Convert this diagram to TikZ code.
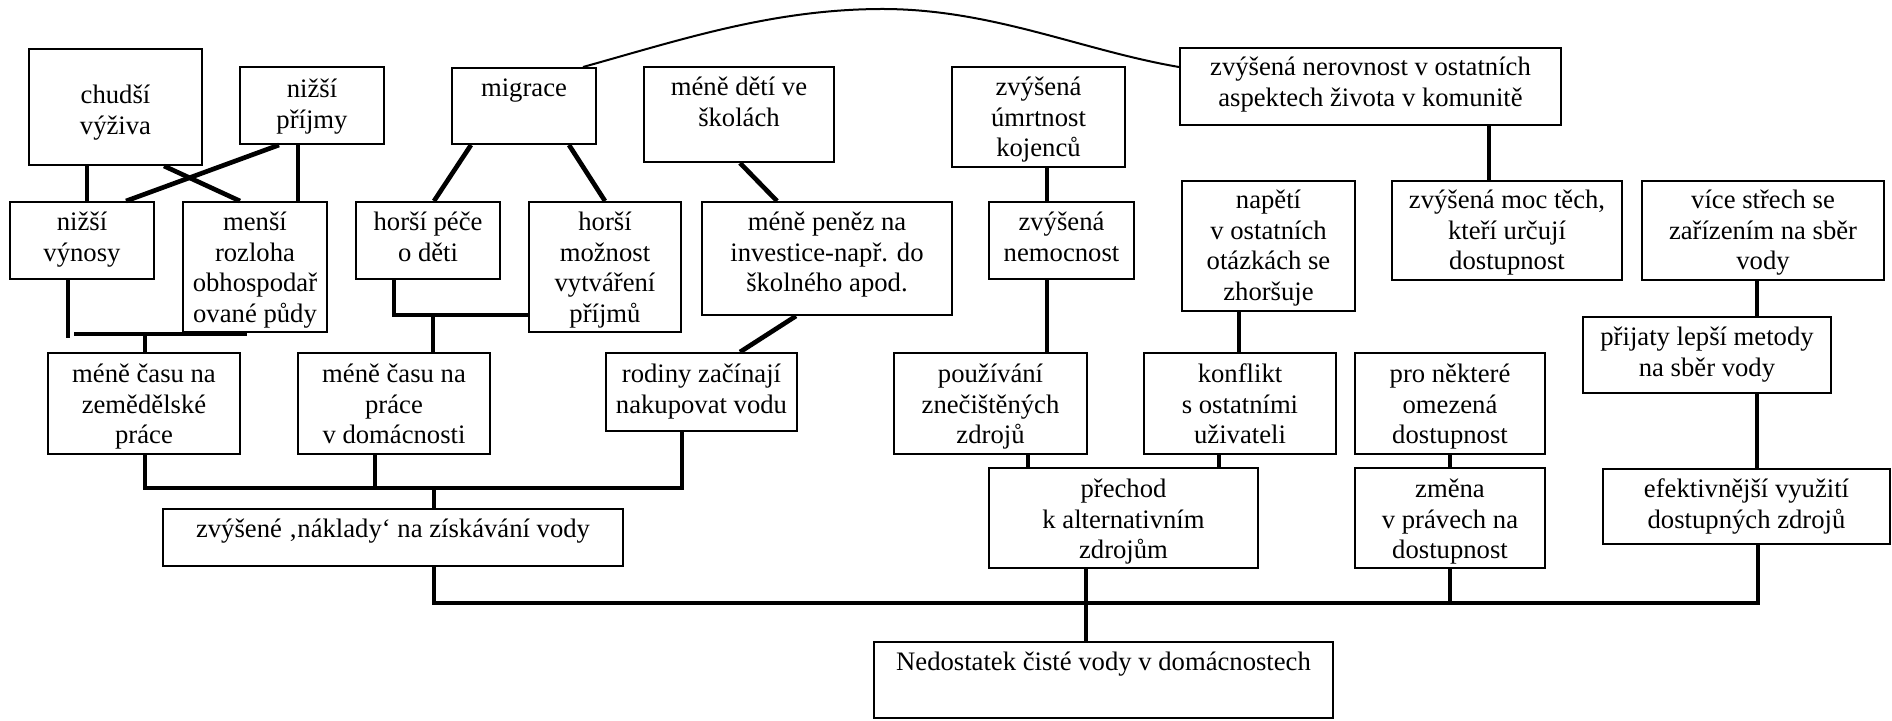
\documentclass[tikz,border=0pt]{standalone}
\usepackage{fontspec}
\setmainfont{Liberation Serif}
\newfontfamily\tnr{Liberation Serif}
\newcommand\mybox[7]{%
  \node[box, minimum width={(#4-#2)*0.45pt}, minimum height={(#5-#3)*0.45pt}] (#1) at ({(#2+#4)/2},{(#3+#5)/2}) {};
  \node[txt] (#1t) at ({(#2+#4)/2},{#6-21.47}) {\strut #7};}
\begin{document}
\begin{tikzpicture}[x=0.45pt,y=-0.45pt,
  box/.style={draw, line width=0.9pt, rectangle, inner sep=0pt},
  txt/.style={align=center, anchor=north, inner sep=0pt, font=\tnr\fontsize{12}{13.8}\selectfont},
  conn/.style={line width=2.1pt},
  arcline/.style={line width=0.9pt}]
\fill[white] (0,0) rectangle (1892,720);
\useasboundingbox (0,0) rectangle (1892,720);
% top row
\mybox{chud}{29}{49}{202}{165}{103}{chudší\\výživa}
\mybox{prij}{240}{67}{384}{144}{97}{nižší\\příjmy}
\mybox{migr}{452}{68}{596}{144}{96}{migrace}
\mybox{deti}{644}{67}{834}{162}{95}{méně dětí ve\\školách}
\mybox{umrt}{952}{67}{1125}{167}{95}{zvýšená\\úmrtnost\\kojenců}
\mybox{nerov}{1180}{48}{1561}{125}{75}{zvýšená nerovnost v ostatních\\aspektech života v komunitě}
% second row
\mybox{vyn}{10}{202}{154}{279}{230}{nižší\\výnosy}
\mybox{mens}{183}{202}{327}{332}{230}{menší\\rozloha\\obhospodař\\ované půdy}
\mybox{pece}{356}{202}{500}{279}{230}{horší péče\\o děti}
\mybox{mozn}{529}{202}{681}{332}{230}{horší\\možnost\\vytváření\\příjmů}
\mybox{penez}{702}{202}{952}{315}{230}{méně peněz na\\investice-např. do\\školného apod.}
\mybox{nemoc}{989}{202}{1134}{279}{230}{zvýšená\\nemocnost}
\mybox{napeti}{1182}{181}{1355}{311}{208}{napětí\\v ostatních\\otázkách se\\zhoršuje}
\mybox{moc}{1392}{181}{1622}{280}{208}{zvýšená moc těch,\\kteří určují\\dostupnost}
\mybox{strech}{1642}{181}{1884}{280}{208}{více střech se\\zařízením na sběr\\vody}
\mybox{prijaty}{1583}{317}{1831}{393}{345}{přijaty lepší metody\\na sběr vody}
% third row
\mybox{zem}{48}{353}{240}{454}{382}{méně času na\\zemědělské\\práce}
\mybox{dom}{298}{353}{490}{454}{382}{méně času na\\práce\\v domácnosti}
\mybox{rod}{606}{353}{797}{431}{382}{rodiny začínají\\nakupovat vodu}
\mybox{pouz}{894}{353}{1087}{454}{382}{používání\\znečištěných\\zdrojů}
\mybox{konf}{1144}{353}{1336}{454}{382}{konflikt\\s ostatními\\uživateli}
\mybox{nekt}{1355}{353}{1545}{454}{382}{pro některé\\omezená\\dostupnost}
% fourth row
\mybox{nakl}{163}{509}{623}{566}{537}{zvýšené ‚náklady‘ na získávání vody}
\mybox{prech}{989}{468}{1258}{568}{497}{přechod\\k alternativním\\zdrojům}
\mybox{zmena}{1355}{468}{1545}{568}{497}{změna\\v právech na\\dostupnost}
\mybox{efekt}{1603}{469}{1890}{544}{497}{efektivnější využití\\dostupných zdrojů}
\mybox{ned}{874}{642}{1333}{718}{670}{Nedostatek čisté vody v domácnostech}
% junction coordinates
\coordinate (b1l) at (74,334);
\coordinate (b1r) at (247,334);
\coordinate (b1m) at (145,334);
\coordinate (b2) at (433,315);
\coordinate (b3) at (434,488);
\coordinate (b3d) at (375,488);
\coordinate (b4) at (1086,603);
\coordinate (b4z) at (1450,603);
\coordinate (peak) at (878,9);
% connectors
\draw[conn] (chud.south -| 87,0) -- (vyn.north -| 87,0);
\draw[conn] (chud.south -| 164,0) -- (mens.north -| 240,0);
\draw[conn] (prij.south -| 279,0) -- (vyn.north -| 126,0);
\draw[conn] (prij.south -| 298,0) -- (mens.north -| 298,0);
\draw[conn] (migr.south -| 471,0) -- (pece.north -| 434,0);
\draw[conn] (migr.south -| 569,0) -- (mozn.north -| 605,0);
\draw[conn] (deti.south -| 740,0) -- (penez.north -| 777,0);
\draw[conn] (umrt.south -| 1047,0) -- (nemoc.north -| 1047,0);
\draw[conn] (nerov.south -| 1489,0) -- (moc.north -| 1489,0);
\draw[conn] (vyn.south -| 68,0) -- ++(0,58);
\draw[conn] (b1l) -- (b1r);
\draw[conn] (b1m) -- (zem.north -| b1m);
\draw[conn] (pece.south -| 394,0) |- (mozn.west |- b2);
\draw[conn] (b2) -- (dom.north -| b2);
\draw[conn] (penez.south -| 796,0) -- (rod.north -| 740,0);
\draw[conn] (nemoc.south -| 1047,0) -- (pouz.north -| 1047,0);
\draw[conn] (napeti.south -| 1239,0) -- (konf.north -| 1239,0);
\draw[conn] (strech.south -| 1757,0) -- (prijaty.north -| 1757,0);
\draw[conn] (prijaty.south -| 1757,0) -- (efekt.north -| 1757,0);
\draw[conn] (zem.south -| 145,0) |- (b3) -| (rod.south -| 682,0);
\draw[conn] (dom.south -| b3d) -- (b3d);
\draw[conn] (b3) -- (nakl.north -| b3);
\draw[conn] (nakl.south -| 434,0) |- (b4) -| (efekt.south -| 1758,0);
\draw[conn] (prech.south -| b4) -- (ned.north -| b4);
\draw[conn] (zmena.south -| b4z) -- (b4z);
\draw[conn] (pouz.south -| 1028,0) -- (prech.north -| 1028,0);
\draw[conn] (konf.south -| 1219,0) -- (prech.north -| 1219,0);
\draw[conn] (nekt.south -| 1450,0) -- (zmena.north -| 1450,0);
\draw[arcline] (migr.north -| 583,0) .. controls (680,40) and (770,10) .. (peak)
  .. controls (990,8) and (1080,50) .. (nerov.west |- 0,67);
\end{tikzpicture}
\end{document}
